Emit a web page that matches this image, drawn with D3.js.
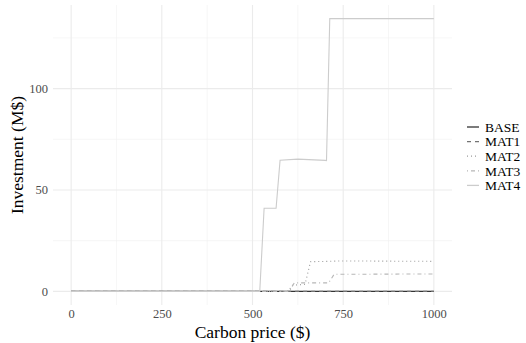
<!DOCTYPE html>
<html>
<head>
<meta charset="utf-8">
<script src="https://cdn.jsdelivr.net/npm/d3@7"></script>
<style>
  body { margin: 0; background: #fff; }
  text { font-family: "Liberation Serif", "DejaVu Serif", serif; }
</style>
</head>
<body>
<script>
// series names, in drawing order
const seriesNames = ["BASE", "MAT1", "MAT2", "MAT3", "MAT4"];

// breakpoints (carbon price, investment M$)
const basePrice = [0, 1000];
const baseValue = [0, 0];
const mat1Price = [0, 1000];
const mat1Value = [0, 0];
const mat2Price = [0, 598, 610, 645, 660, 750, 1000];
const mat2Value = [0, 0, 3, 3.5, 14.6, 15, 14.8];
const mat3Price = [0, 602, 615, 710, 725, 1000];
const mat3Value = [0, 0, 4.2, 4.2, 8.4, 8.6];
const mat4Price = [0, 520, 532, 565, 576, 625, 700, 704, 713, 1000];
const mat4Value = [0, 0, 41, 41, 64.7, 65.2, 64.6, 64.5, 134.5, 134.5];

const xTicks = [0, 250, 500, 750, 1000];
const yTicks = [0, 50, 100];

const prices = [basePrice, mat1Price, mat2Price, mat3Price, mat4Price];
const values = [baseValue, mat1Value, mat2Value, mat3Value, mat4Value];

const colors = ["#333333", "#737373", "#9a9a9a", "#b7b7b7", "#cccccc"];
const dashes = [null, "4,4", "1,3", "1,3,4,3", null];

const W = 526, H = 343;
const margin = { top: 5, right: 74, bottom: 38, left: 53 };
const width = W - margin.left - margin.right;
const height = H - margin.top - margin.bottom;

const svg = d3.select("body").append("svg")
  .attr("width", W)
  .attr("height", H);

const g = svg.append("g")
  .attr("transform", `translate(${margin.left},${margin.top})`);

// ggplot-like 5% expansion
const x = d3.scaleLinear().domain([-50, 1050]).range([0, width]);
const y = d3.scaleLinear().domain([-6.725, 141.225]).range([height, 0]);

// minor grid
const xMinor = [125, 375, 625, 875];
const yMinor = [25, 75, 125];
g.selectAll(".xminor").data(xMinor).enter().append("line")
  .attr("x1", d => x(d)).attr("x2", d => x(d))
  .attr("y1", 0).attr("y2", height)
  .attr("stroke", "#f0f0f0").attr("stroke-width", 0.6);
g.selectAll(".yminor").data(yMinor).enter().append("line")
  .attr("y1", d => y(d)).attr("y2", d => y(d))
  .attr("x1", 0).attr("x2", width)
  .attr("stroke", "#f0f0f0").attr("stroke-width", 0.6);

// major grid
g.selectAll(".xmajor").data(xTicks).enter().append("line")
  .attr("x1", d => x(d)).attr("x2", d => x(d))
  .attr("y1", 0).attr("y2", height)
  .attr("stroke", "#ebebeb").attr("stroke-width", 1.1);
g.selectAll(".ymajor").data(yTicks).enter().append("line")
  .attr("y1", d => y(d)).attr("y2", d => y(d))
  .attr("x1", 0).attr("x2", width)
  .attr("stroke", "#ebebeb").attr("stroke-width", 1.1);

// axes (labels only)
const xAxis = g.append("g")
  .attr("transform", `translate(0,${height})`)
  .call(d3.axisBottom(x).tickValues(xTicks).tickFormat(d3.format("d")).tickSize(0).tickPadding(4));
const yAxis = g.append("g")
  .call(d3.axisLeft(y).tickValues(yTicks).tickFormat(d3.format("d")).tickSize(0).tickPadding(5));
[xAxis, yAxis].forEach(a => {
  a.select(".domain").remove();
  a.selectAll("text")
    .attr("fill", "#4d4d4d")
    .style("font-size", "12.5px")
    .style("font-family", "Liberation Serif, serif");
});

// lines
const line = d3.line()
  .x(d => x(d[0]))
  .y(d => y(d[1]));

seriesNames.forEach((name, i) => {
  const pts = prices[i].map((p, j) => [p, values[i][j]]);
  g.append("path")
    .datum(pts)
    .attr("fill", "none")
    .attr("stroke", colors[i])
    .attr("stroke-width", 1.1)
    .attr("stroke-dasharray", dashes[i])
    .attr("d", line);
});

// axis titles
svg.append("text")
  .attr("x", margin.left + width / 2)
  .attr("y", 338)
  .attr("text-anchor", "middle")
  .style("font-size", "17.5px")
  .text("Carbon price ($)");

svg.append("text")
  .attr("transform", `translate(23,${margin.top + height / 2}) rotate(-90)`)
  .attr("text-anchor", "middle")
  .style("font-size", "17.5px")
  .text("Investment (M$)");

// legend
const legend = svg.append("g").attr("transform", "translate(467,127)");
seriesNames.forEach((name, i) => {
  const row = legend.append("g").attr("transform", `translate(0,${i * 14.6})`);
  row.append("line")
    .attr("x1", 0).attr("x2", 12)
    .attr("y1", 0).attr("y2", 0)
    .attr("stroke", colors[i])
    .attr("stroke-width", 1.3)
    .attr("stroke-dasharray", dashes[i]);
  row.append("text")
    .attr("x", 18)
    .attr("y", 0)
    .attr("dy", "0.35em")
    .style("font-size", "13.5px")
    .text(name);
});
</script>
</body>
</html>
